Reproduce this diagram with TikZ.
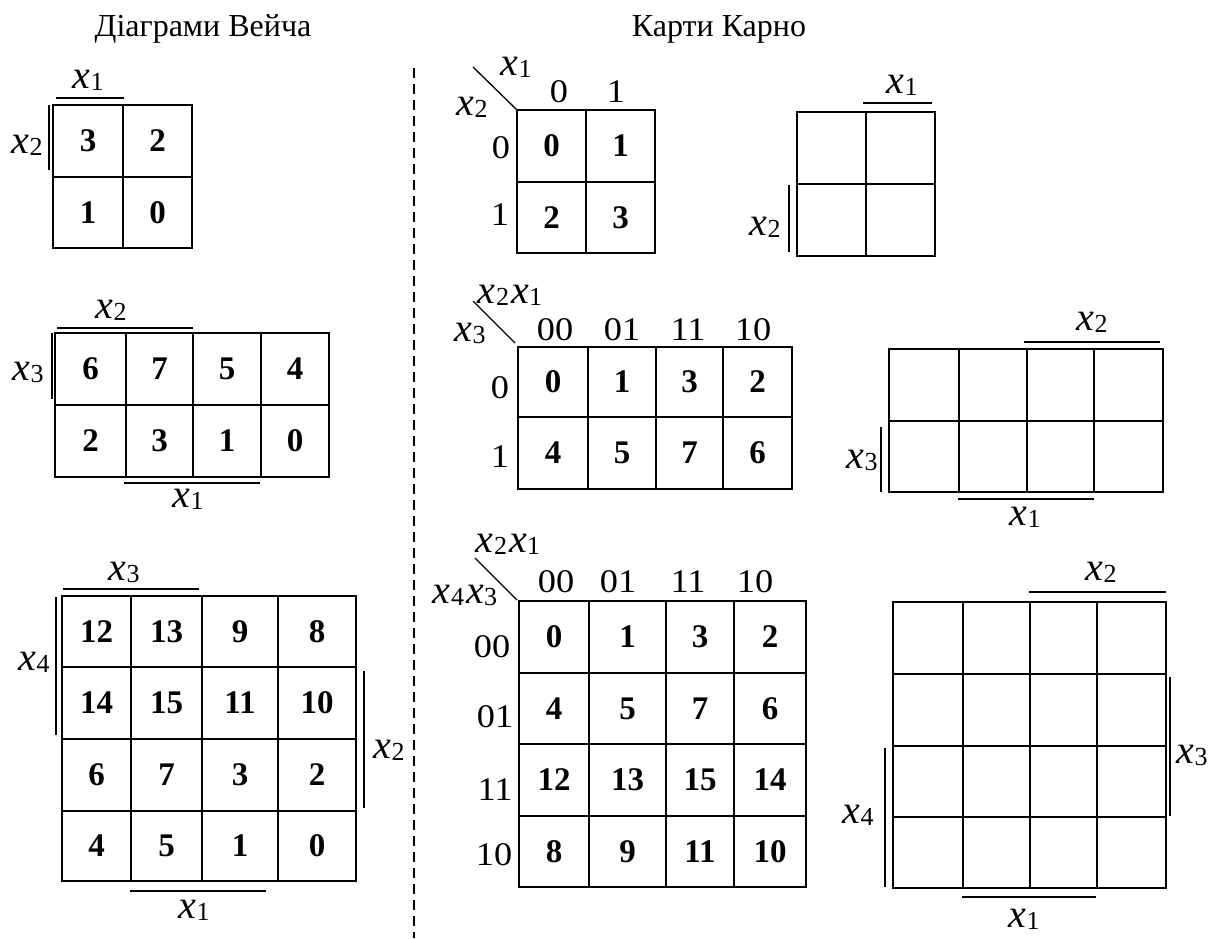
\documentclass[tikz,border=0pt]{standalone}
\usepackage{fontspec}
\setmainfont{Liberation Serif}
\newcommand\xv[1]{{\itshape x}\kern0.3pt\raisebox{-2pt}{\fontsize{26}{26}\selectfont #1}}
\newcommand\kmap[6]{%
  \draw[gridline] (#1,#3) rectangle (#2,#4);
  \foreach \u in {#5} \draw[gridline] (\u,#3) -- (\u,#4);
  \foreach \v in {#6} \draw[gridline] (#1,\v) -- (#2,\v);}
\tikzset{
  gridline/.style={line width=1.5pt},
  bar/.style={line width=1.3pt},
  num/.style={font=\fontsize{33}{33}\selectfont\bfseries, inner sep=0pt},
  hdr/.style={font=\fontsize{33}{33}\selectfont, inner sep=0pt, anchor=base, xscale=1.1},
  var/.style={font=\fontsize{40}{40}\selectfont, inner sep=0pt, anchor=base},
  ttl/.style={font=\fontsize{32}{32}\selectfont, inner sep=0pt, anchor=base},
}
\begin{document}
\begin{tikzpicture}[x=1pt,y=-1pt]
\useasboundingbox (0,0) rectangle (1214,938);
% titles
\node[ttl] (t1) at (203,36) {Діаграми Вейча};
\node[ttl] (t2) at (719,36) {Карти Карно};
% separator
\draw[line width=1.2pt, dash pattern=on 10pt off 6pt] (414,68) -- (414,938);

% ---------- Veitch 2x2
\kmap{53}{192}{105}{248}{123}{177}
\node[num] (va1) at (88,141) {3};
\node[num] (va2) at (157.5,141) {2};
\node[num] (va3) at (88,212.5) {1};
\node[num] (va4) at (157.5,212.5) {0};
\draw[bar] (56,98) -- (124,98);
\draw[bar] (49,105) -- (49,170);
\node[var] (vax1) at (88,88) {\xv{1}};
\node[var] (vax2) at (27,153) {\xv{2}};

% ---------- Veitch 2x4
\kmap{55}{329}{333}{477}{126,193,261}{405}
\node[num] (vb1) at (90.5,369) {6};
\node[num] (vb2) at (159.5,369) {7};
\node[num] (vb3) at (227,369) {5};
\node[num] (vb4) at (295,369) {4};
\node[num] (vb5) at (90.5,441) {2};
\node[num] (vb6) at (159.5,441) {3};
\node[num] (vb7) at (227,441) {1};
\node[num] (vb8) at (295,441) {0};
\draw[bar] (57,328) -- (193,328);
\draw[bar] (52,333) -- (52,399);
\draw[bar] (124,483) -- (260,483);
\node[var] (vbx2) at (111,318) {\xv{2}};
\node[var] (vbx3) at (28,380) {\xv{3}};
\node[var] (vbx1) at (188,507) {\xv{1}};

% ---------- Veitch 4x4
\kmap{62}{356}{596}{881}{131,202,278}{667,739,811}
\node[num] (vc1) at (96.5,631.5) {12};
\node[num] (vc2) at (166.5,631.5) {13};
\node[num] (vc3) at (240,631.5) {9};
\node[num] (vc4) at (317,631.5) {8};
\node[num] (vc5) at (96.5,703) {14};
\node[num] (vc6) at (166.5,703) {15};
\node[num] (vc7) at (240,703) {11};
\node[num] (vc8) at (317,703) {10};
\node[num] (vc9) at (96.5,775) {6};
\node[num] (vc10) at (166.5,775) {7};
\node[num] (vc11) at (240,775) {3};
\node[num] (vc12) at (317,775) {2};
\node[num] (vc13) at (96.5,846) {4};
\node[num] (vc14) at (166.5,846) {5};
\node[num] (vc15) at (240,846) {1};
\node[num] (vc16) at (317,846) {0};
\draw[bar] (63,589) -- (199,589);
\draw[bar] (56,597) -- (56,735);
\draw[bar] (364,671) -- (364,808);
\draw[bar] (130,891) -- (266,891);
\node[var] (vcx3) at (124,580) {\xv{3}};
\node[var] (vcx4) at (34,670) {\xv{4}};
\node[var] (vcx2) at (389,758) {\xv{2}};
\node[var] (vcx1) at (194,918) {\xv{1}};

% ---------- Karnaugh 2x2
\kmap{517}{655}{110}{253}{586}{182}
\node[num] (ka1) at (551.5,146) {0};
\node[num] (ka2) at (620.5,146) {1};
\node[num] (ka3) at (551.5,217.5) {2};
\node[num] (ka4) at (620.5,217.5) {3};
\draw[bar] (473,67) -- (517,110);
\node[var] (kax1) at (516,75) {\xv{1}};
\node[var] (kax2) at (472,115) {\xv{2}};
\node[hdr] (kac0) at (559,102) {0};
\node[hdr] (kac1) at (616,102) {1};
\node[hdr] (kar0) at (501,158) {0};
\node[hdr] (kar1) at (500,225) {1};

% ---------- right 2x2
\kmap{797}{935}{112}{256}{866}{184}
\draw[bar] (863,103) -- (932,103);
\draw[bar] (789,185) -- (789,252);
\node[var] (rax1) at (902,93) {\xv{1}};
\node[var] (rax2) at (765,235) {\xv{2}};

% ---------- Karnaugh 2x4
\kmap{518}{792}{347}{489}{588,656,723}{417}
\node[num] (kb1) at (553,382) {0};
\node[num] (kb2) at (622,382) {1};
\node[num] (kb3) at (689.5,382) {3};
\node[num] (kb4) at (757.5,382) {2};
\node[num] (kb5) at (553,453) {4};
\node[num] (kb6) at (622,453) {5};
\node[num] (kb7) at (689.5,453) {7};
\node[num] (kb8) at (757.5,453) {6};
\draw[bar] (473,301) -- (515,343);
\node[var] (kbx21) at (510,303) {\xv{2}\kern2pt\xv{1}};
\node[var] (kbx3) at (470,341) {\xv{3}};
\node[hdr] (kbc1) at (555,340) {00};
\node[hdr] (kbc2) at (622,340) {01};
\node[hdr] (kbc3) at (688,340) {11};
\node[hdr] (kbc4) at (753,340) {10};
\node[hdr] (kbr0) at (500,398) {0};
\node[hdr] (kbr1) at (500,467) {1};

% ---------- right 2x4
\kmap{889}{1163}{349}{492}{959,1027,1094}{421}
\draw[bar] (1024,342) -- (1160,342);
\draw[bar] (881,427) -- (881,492);
\draw[bar] (958,499) -- (1094,499);
\node[var] (rbx2) at (1092,330) {\xv{2}};
\node[var] (rbx3) at (862,468) {\xv{3}};
\node[var] (rbx1) at (1025,525) {\xv{1}};

% ---------- Karnaugh 4x4
\kmap{519}{806}{601}{887}{589,666,734}{673,744,816}
\node[num] (kc1) at (554,637) {0};
\node[num] (kc2) at (627.5,637) {1};
\node[num] (kc3) at (700,637) {3};
\node[num] (kc4) at (770,637) {2};
\node[num] (kc5) at (554,708.5) {4};
\node[num] (kc6) at (627.5,708.5) {5};
\node[num] (kc7) at (700,708.5) {7};
\node[num] (kc8) at (770,708.5) {6};
\node[num] (kc9) at (554,780) {12};
\node[num] (kc10) at (627.5,780) {13};
\node[num] (kc11) at (700,780) {15};
\node[num] (kc12) at (770,780) {14};
\node[num] (kc13) at (554,851.5) {8};
\node[num] (kc14) at (627.5,851.5) {9};
\node[num] (kc15) at (700,851.5) {11};
\node[num] (kc16) at (770,851.5) {10};
\draw[bar] (475,558) -- (517,600);
\node[var] (kcx21) at (508,552) {\xv{2}\kern2pt\xv{1}};
\node[var] (kcx43) at (465,603) {\xv{4}\kern2pt\xv{3}};
\node[hdr] (kcc1) at (556,592) {00};
\node[hdr] (kcc2) at (618,592) {01};
\node[hdr] (kcc3) at (688,592) {11};
\node[hdr] (kcc4) at (755,592) {10};
\node[hdr] (kcr1) at (492,657) {00};
\node[hdr] (kcr2) at (495,727) {01};
\node[hdr] (kcr3) at (495,800) {11};
\node[hdr] (kcr4) at (494,865) {10};

% ---------- right 4x4
\kmap{893}{1166}{602}{888}{963,1030,1097}{674,746,817}
\draw[bar] (1029,592) -- (1166,592);
\draw[bar] (1170,677) -- (1170,816);
\draw[bar] (885,748) -- (885,887);
\draw[bar] (962,897) -- (1096,897);
\node[var] (rcx2) at (1101,580) {\xv{2}};
\node[var] (rcx3) at (1192,763) {\xv{3}};
\node[var] (rcx4) at (858,823) {\xv{4}};
\node[var] (rcx1) at (1024,927) {\xv{1}};
\end{tikzpicture}
\end{document}
